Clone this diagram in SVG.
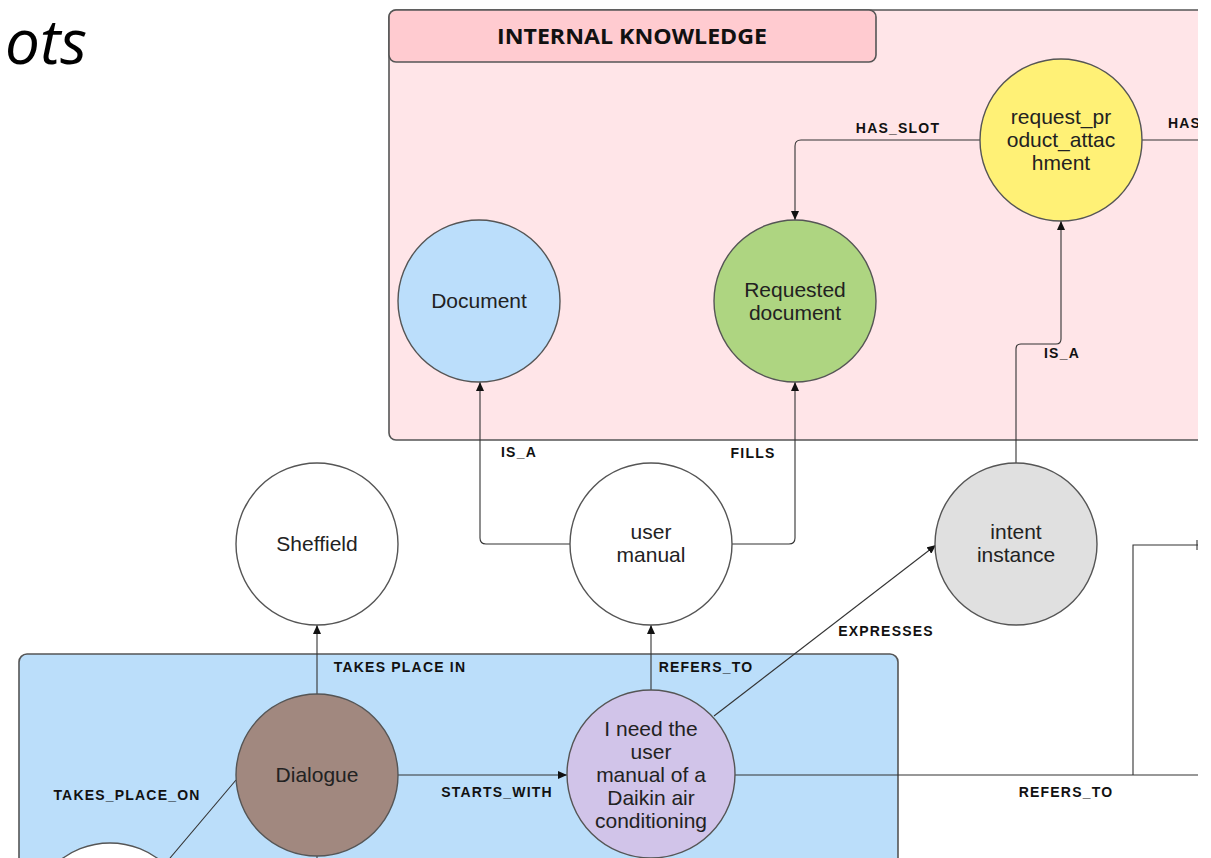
<svg xmlns="http://www.w3.org/2000/svg" width="1211" height="858" viewBox="0 0 1211 858">
<style>
.node{stroke:#555;stroke-width:1.4}
.nt{font-family:"Liberation Sans",Arial,sans-serif;font-size:21px;fill:#222;text-anchor:middle}
.lbl{font-family:"Liberation Sans",Arial,sans-serif;font-size:14px;font-weight:bold;fill:#111;letter-spacing:1.2px;text-anchor:middle}
.edge{fill:none;stroke:#333;stroke-width:1.1}
.cont{stroke:#555;stroke-width:1.6}
</style>
<defs>
<clipPath id="clip"><rect x="0" y="0" width="1198" height="858"/></clipPath>
<marker id="arr" markerUnits="userSpaceOnUse" markerWidth="9" markerHeight="8" refX="9" refY="4" orient="auto"><path d="M0,0 L9,4 L0,8 z" fill="#111"/></marker>
</defs>
<rect width="1211" height="858" fill="#fff"/>
<text x="5" y="64" font-family="'Open Sans',sans-serif" font-style="italic" font-size="62" fill="#000">ots</text>
<g clip-path="url(#clip)">
<g id="internal-knowledge">
<rect class="cont" x="389" y="10" width="900" height="430" rx="7" fill="#ffe5e8"/>
<rect class="cont" x="389" y="10" width="487" height="52" rx="7" fill="#ffcbd0"/>
<text x="632" y="44" font-family="'Open Sans',sans-serif" font-weight="bold" font-size="21" text-anchor="middle" fill="#111" textLength="270" lengthAdjust="spacingAndGlyphs">INTERNAL KNOWLEDGE</text>
</g>
<g id="dialogue-container">
<rect class="cont" x="19" y="654" width="879" height="260" rx="8" fill="#bbdefa"/>
</g>
<g id="connectors">
<path class="edge" d="M980,140 H801 Q795,140 795,146 V220" marker-end="url(#arr)"/>
<path class="edge" d="M1142,140 H1198"/>
<path class="edge" d="M1016,463 V349 Q1016,344 1021,344 H1056 Q1061,344 1061,339 V221" marker-end="url(#arr)"/>
<path class="edge" d="M570,544 H486 Q480,544 480,538 V382" marker-end="url(#arr)"/>
<path class="edge" d="M732,544 H789 Q795,544 795,538 V382" marker-end="url(#arr)"/>
<path class="edge" d="M317,694 V625" marker-end="url(#arr)"/>
<path class="edge" d="M651,690 V625" marker-end="url(#arr)"/>
<path class="edge" d="M714,716 L936,545" marker-end="url(#arr)"/>
<path class="edge" d="M398,775 H567" marker-end="url(#arr)"/>
<path class="edge" d="M735,775 H1198"/>
<path class="edge" d="M1133,775 V545 H1198"/>
<path class="edge" d="M1197,540 V550"/>
<path class="edge" d="M236,780 L170,858"/>
<path class="edge" d="M317,856 V858"/>
<text class="lbl" x="898" y="133">HAS_SLOT</text>
<text class="lbl" x="1168" y="128" style="text-anchor:start">HAS</text>
<text class="lbl" x="1062" y="358">IS_A</text>
<text class="lbl" x="519" y="457">IS_A</text>
<text class="lbl" x="753" y="458">FILLS</text>
<text class="lbl" x="400" y="672">TAKES  PLACE  IN</text>
<text class="lbl" x="706" y="672">REFERS_TO</text>
<text class="lbl" x="886" y="636">EXPRESSES</text>
<text class="lbl" x="497" y="797">STARTS_WITH</text>
<text class="lbl" x="1066" y="797">REFERS_TO</text>
<text class="lbl" x="127" y="800">TAKES_PLACE_ON</text>
</g>
<g id="document"><circle class="node" cx="479" cy="301" r="81" fill="#bbdefb"/><text class="nt" x="479" y="308">Document</text></g>
<g id="requested-document"><circle class="node" cx="795" cy="301" r="81" fill="#aed581"/><text class="nt" x="795" y="297">Requested</text><text class="nt" x="795" y="320">document</text></g>
<g id="request-product-attachment"><circle class="node" cx="1061" cy="140" r="81" fill="#fff176"/><text class="nt" x="1061" y="124">request_pr</text><text class="nt" x="1061" y="147">oduct_attac</text><text class="nt" x="1061" y="170">hment</text></g>
<g id="sheffield"><circle class="node" cx="317" cy="544" r="81" fill="#fff"/><text class="nt" x="317" y="551">Sheffield</text></g>
<g id="user-manual"><circle class="node" cx="651" cy="544" r="81" fill="#fff"/><text class="nt" x="651" y="539">user</text><text class="nt" x="651" y="562">manual</text></g>
<g id="intent-instance"><circle class="node" cx="1016" cy="544" r="81" fill="#e0e0e0"/><text class="nt" x="1016" y="539">intent</text><text class="nt" x="1016" y="562">instance</text></g>
<g id="dialogue"><circle class="node" cx="317" cy="775" r="81" fill="#a1887f"/><text class="nt" x="317" y="782">Dialogue</text></g>
<g id="utterance"><circle class="node" cx="651" cy="774" r="84" fill="#d1c4e9"/><text class="nt" x="651" y="736">I need the</text><text class="nt" x="651" y="759">user</text><text class="nt" x="651" y="782">manual of a</text><text class="nt" x="651" y="805">Daikin air</text><text class="nt" x="651" y="828">conditioning</text></g>
<g id="platform"><circle class="node" cx="110" cy="924" r="81" fill="#fff"/></g>
</g>
</svg>
